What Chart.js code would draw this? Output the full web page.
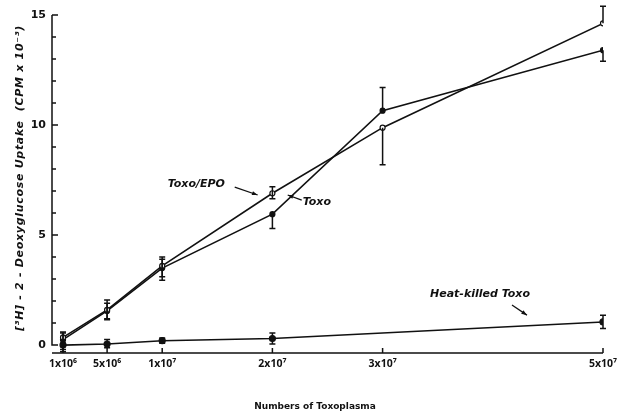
<!DOCTYPE html>
<html><head><meta charset="utf-8">
<script src="https://cdn.jsdelivr.net/npm/chart.js@4.4.1/dist/chart.umd.min.js"></script>
<style>html,body{margin:0;background:#fff}#c{display:block}</style>
</head><body>
<canvas id="c" width="617" height="420"></canvas>
<script>
// 2-deoxyglucose uptake vs number of Toxoplasma
const xValues=[1e6,5e6,1e7,2e7,3e7,5e7];
const xTickLabels=['1x10⁶','5x10⁶','1x10⁷','2x10⁷','3x10⁷','5x10⁷'];
const toxoEpo=[0.35,1.6,3.6,6.9,9.88,14.62];
const toxoEpoLow=[0.1,1.15,2.95,6.65,8.2,14.62];
const toxoEpoHigh=[0.6,2.05,4.0,7.2,9.88,15.4];
const toxo=[0.25,1.55,3.5,5.95,10.65,13.4];
const toxoLow=[-0.3,1.2,3.1,5.3,10.65,12.9];
const toxoHigh=[0.55,1.9,3.9,5.95,11.7,13.4];
const heatKilled=[0.0,0.05,0.2,0.3,null,1.05];
const heatLow=[-0.2,-0.12,0.08,0.05,null,0.75];
const heatHigh=[0.2,0.25,0.32,0.55,null,1.35];
const yTicks=[0,1,2,3,4,5,6,7,8,9,10,11,12,13,14,15];
// labels placed in data units: [text, x, y, arrowFromX, arrowFromY, arrowToX, arrowToY]
const notes=[
  ['Toxo/EPO',1.05e7,7.32,1.658e7,7.18,1.866e7,6.82],
  ['Toxo',2.275e7,6.5,2.266e7,6.59,2.139e7,6.82],
  ['Heat-killed Toxo',3.43e7,2.32,4.174e7,1.82,4.31e7,1.36]
];

const pts=(ys)=>xValues.map((x,i)=>({x,y:ys[i]})).filter(p=>p.y!==null);
const ink='#111';
const bars=[[toxoEpo,toxoEpoLow,toxoEpoHigh],[toxo,toxoLow,toxoHigh],[heatKilled,heatLow,heatHigh]];

const extras={id:'extras',afterDatasetsDraw(chart){
  const {ctx,scales:{x,y},chartArea:a}=chart;
  ctx.save(); ctx.strokeStyle=ink; ctx.fillStyle=ink; ctx.lineWidth=1.5;
  // error bars
  bars.forEach(([v,lo,hi])=>{
    xValues.forEach((xv,i)=>{
      if(v[i]===null) return;
      const px=x.getPixelForValue(xv), p1=y.getPixelForValue(lo[i]), p2=y.getPixelForValue(hi[i]);
      if(Math.abs(p1-p2)<1) return;
      ctx.beginPath(); ctx.moveTo(px,p1); ctx.lineTo(px,p2);
      if(lo[i]<v[i]){ctx.moveTo(px-3,p1); ctx.lineTo(px+3,p1);}
      if(hi[i]>v[i]){ctx.moveTo(px-3,p2); ctx.lineTo(px+3,p2);}
      ctx.stroke();
    });
  });
  // axes
  const y0=y.getPixelForValue(0), y15=y.getPixelForValue(15);
  ctx.beginPath(); ctx.moveTo(a.left,y15); ctx.lineTo(a.left,y0); ctx.lineTo(a.left+5,y0);
  yTicks.forEach(t=>{const py=y.getPixelForValue(t); ctx.moveTo(a.left,py); ctx.lineTo(a.left+(t%5===0?6:4),py);});
  ctx.moveTo(a.left,a.bottom); ctx.lineTo(a.right,a.bottom);
  xValues.forEach(t=>{const px=x.getPixelForValue(t); ctx.moveTo(px,a.bottom); ctx.lineTo(px,a.bottom-5);});
  ctx.stroke();
  // notes
  ctx.font='italic bold 11px "DejaVu Sans"'; ctx.textBaseline='middle'; ctx.lineWidth=1.3;
  notes.forEach(([t,tx,ty,x1,y1,x2,y2])=>{
    ctx.fillText(t,x.getPixelForValue(tx),y.getPixelForValue(ty));
    const ax=x.getPixelForValue(x1), ay=y.getPixelForValue(y1), bx=x.getPixelForValue(x2), by=y.getPixelForValue(y2);
    ctx.beginPath(); ctx.moveTo(ax,ay); ctx.lineTo(bx,by); ctx.stroke();
    const ang=Math.atan2(by-ay,bx-ax);
    ctx.beginPath(); ctx.moveTo(bx,by);
    ctx.lineTo(bx-6*Math.cos(ang-0.35),by-6*Math.sin(ang-0.35));
    ctx.lineTo(bx-6*Math.cos(ang+0.35),by-6*Math.sin(ang+0.35)); ctx.closePath(); ctx.fill();
  });
  // titles
  ctx.textAlign='center';
  ctx.font='bold 9px "DejaVu Sans"';
  ctx.fillText('Numbers of Toxoplasma',315,407);
  ctx.letterSpacing='0.7px';
  ctx.translate(20,(y15+y0)/2-2); ctx.rotate(-Math.PI/2);
  ctx.font='italic bold 11px "DejaVu Sans"';
  ctx.fillText('[³H] - 2 - Deoxyglucose Uptake  (CPM x 10⁻³)',0,0);
  ctx.restore();
}};

const line=(label,ys,fill,r)=>({label,data:pts(ys),borderColor:ink,borderWidth:1.6,
  pointRadius:r,pointBackgroundColor:fill,pointBorderColor:ink,pointBorderWidth:1.2,tension:0});

new Chart(document.getElementById('c'),{
  type:'line',
  data:{datasets:[
    line('Toxo/EPO',toxoEpo,'#fff',2.5),
    line('Toxo',toxo,ink,2.5),
    line('Heat-killed Toxo',heatKilled,ink,3)
  ]},
  options:{responsive:false,animation:false,
    layout:{padding:{left:0,right:14,top:15,bottom:0}},
    plugins:{legend:{display:false},tooltip:{enabled:false}},
    scales:{
      x:{type:'linear',min:0,max:5e7,grid:{display:false,drawTicks:false},border:{display:false},
        afterBuildTicks:s=>{s.ticks=xValues.map(v=>({value:v}));},
        afterFit:s=>{s.height=67; s.paddingRight=0; s.paddingLeft=0;},
        ticks:{color:ink,padding:5,maxRotation:0,autoSkip:false,font:{family:'Noto Sans',size:10.5,weight:'bold'},
          callback:(v)=>xTickLabels[xValues.indexOf(v)]}},
      y:{min:-0.36,max:15,grid:{display:false,drawTicks:false},border:{display:false},
        afterBuildTicks:s=>{s.ticks=yTicks.map(v=>({value:v}));},
        afterFit:s=>{s.width=52; s.paddingTop=0; s.paddingBottom=0;},
        ticks:{color:ink,padding:6,autoSkip:false,font:{family:'DejaVu Sans',size:11,weight:'bold'},
          callback:(v)=>v%5===0?String(v):''}}
    }
  },
  plugins:[extras]
});
</script>
</body></html>
